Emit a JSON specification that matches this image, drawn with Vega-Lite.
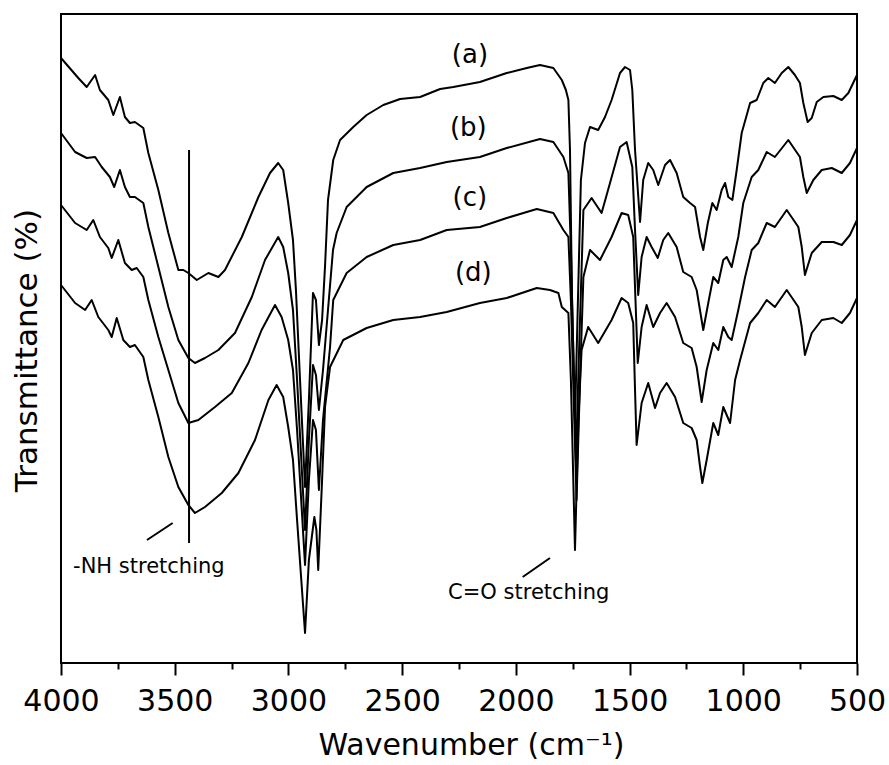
{
  "$schema": "https://vega.github.io/schema/vega-lite/v6.json",
  "width": 796,
  "height": 649,
  "autosize": {"type": "none"},
  "padding": {"left": 61, "top": 14, "right": 32, "bottom": 102},
  "background": "#ffffff",
  "config": {
    "view": {"stroke": "#000000", "strokeWidth": 2},
    "font": "DejaVu Sans",
    "axis": {"grid": false}
  },
  "datasets": {
    "spectra": [
      {"c":"a","wn":4000,"t":605},{"c":"a","wn":3924,"t":585},{"c":"a","wn":3887,"t":576},{"c":"a","wn":3850,"t":588},{"c":"a","wn":3829,"t":573},{"c":"a","wn":3792,"t":563},{"c":"a","wn":3770,"t":548},{"c":"a","wn":3741,"t":566},{"c":"a","wn":3719,"t":546},{"c":"a","wn":3697,"t":540},{"c":"a","wn":3675,"t":541},{"c":"a","wn":3638,"t":535},{"c":"a","wn":3616,"t":510},{"c":"a","wn":3572,"t":473},{"c":"a","wn":3528,"t":430},{"c":"a","wn":3484,"t":393},{"c":"a","wn":3462,"t":393},{"c":"a","wn":3440,"t":390},{"c":"a","wn":3403,"t":383},{"c":"a","wn":3352,"t":390},{"c":"a","wn":3308,"t":386},{"c":"a","wn":3279,"t":393},{"c":"a","wn":3205,"t":426},{"c":"a","wn":3132,"t":466},{"c":"a","wn":3081,"t":490},{"c":"a","wn":3045,"t":500},{"c":"a","wn":3023,"t":493},{"c":"a","wn":3001,"t":460},{"c":"a","wn":2980,"t":423},{"c":"a","wn":2967,"t":373},{"c":"a","wn":2949,"t":283},{"c":"a","wn":2927,"t":176},{"c":"a","wn":2910,"t":263},{"c":"a","wn":2892,"t":370},{"c":"a","wn":2879,"t":363},{"c":"a","wn":2866,"t":318},{"c":"a","wn":2852,"t":343},{"c":"a","wn":2839,"t":397},{"c":"a","wn":2826,"t":463},{"c":"a","wn":2803,"t":503},{"c":"a","wn":2773,"t":523},{"c":"a","wn":2715,"t":536},{"c":"a","wn":2656,"t":548},{"c":"a","wn":2583,"t":558},{"c":"a","wn":2509,"t":564},{"c":"a","wn":2421,"t":566},{"c":"a","wn":2333,"t":574},{"c":"a","wn":2275,"t":576},{"c":"a","wn":2158,"t":581},{"c":"a","wn":2040,"t":590},{"c":"a","wn":1952,"t":595},{"c":"a","wn":1894,"t":598},{"c":"a","wn":1835,"t":595},{"c":"a","wn":1798,"t":583},{"c":"a","wn":1780,"t":573},{"c":"a","wn":1769,"t":563},{"c":"a","wn":1762,"t":513},{"c":"a","wn":1753,"t":363},{"c":"a","wn":1740,"t":243},{"c":"a","wn":1727,"t":363},{"c":"a","wn":1714,"t":483},{"c":"a","wn":1696,"t":520},{"c":"a","wn":1674,"t":536},{"c":"a","wn":1638,"t":533},{"c":"a","wn":1608,"t":546},{"c":"a","wn":1579,"t":563},{"c":"a","wn":1542,"t":590},{"c":"a","wn":1520,"t":596},{"c":"a","wn":1498,"t":593},{"c":"a","wn":1488,"t":573},{"c":"a","wn":1476,"t":513},{"c":"a","wn":1454,"t":441},{"c":"a","wn":1440,"t":483},{"c":"a","wn":1418,"t":500},{"c":"a","wn":1396,"t":493},{"c":"a","wn":1374,"t":478},{"c":"a","wn":1344,"t":498},{"c":"a","wn":1322,"t":503},{"c":"a","wn":1293,"t":490},{"c":"a","wn":1264,"t":466},{"c":"a","wn":1234,"t":460},{"c":"a","wn":1212,"t":456},{"c":"a","wn":1190,"t":426},{"c":"a","wn":1176,"t":413},{"c":"a","wn":1156,"t":440},{"c":"a","wn":1136,"t":460},{"c":"a","wn":1117,"t":453},{"c":"a","wn":1095,"t":473},{"c":"a","wn":1080,"t":480},{"c":"a","wn":1066,"t":466},{"c":"a","wn":1048,"t":463},{"c":"a","wn":1029,"t":493},{"c":"a","wn":1007,"t":530},{"c":"a","wn":970,"t":560},{"c":"a","wn":941,"t":563},{"c":"a","wn":912,"t":580},{"c":"a","wn":890,"t":585},{"c":"a","wn":861,"t":580},{"c":"a","wn":831,"t":590},{"c":"a","wn":802,"t":596},{"c":"a","wn":773,"t":588},{"c":"a","wn":751,"t":580},{"c":"a","wn":736,"t":560},{"c":"a","wn":717,"t":541},{"c":"a","wn":699,"t":545},{"c":"a","wn":677,"t":561},{"c":"a","wn":648,"t":566},{"c":"a","wn":604,"t":567},{"c":"a","wn":567,"t":563},{"c":"a","wn":538,"t":570},{"c":"a","wn":500,"t":588},
      {"c":"b","wn":4000,"t":530},{"c":"b","wn":3938,"t":511},{"c":"b","wn":3887,"t":505},{"c":"b","wn":3850,"t":506},{"c":"b","wn":3821,"t":496},{"c":"b","wn":3785,"t":486},{"c":"b","wn":3766,"t":476},{"c":"b","wn":3741,"t":493},{"c":"b","wn":3719,"t":476},{"c":"b","wn":3697,"t":466},{"c":"b","wn":3675,"t":466},{"c":"b","wn":3638,"t":460},{"c":"b","wn":3616,"t":436},{"c":"b","wn":3572,"t":396},{"c":"b","wn":3528,"t":356},{"c":"b","wn":3484,"t":323},{"c":"b","wn":3440,"t":305},{"c":"b","wn":3411,"t":300},{"c":"b","wn":3367,"t":305},{"c":"b","wn":3308,"t":313},{"c":"b","wn":3235,"t":330},{"c":"b","wn":3161,"t":366},{"c":"b","wn":3103,"t":403},{"c":"b","wn":3045,"t":426},{"c":"b","wn":3023,"t":416},{"c":"b","wn":3001,"t":390},{"c":"b","wn":2980,"t":353},{"c":"b","wn":2962,"t":283},{"c":"b","wn":2927,"t":133},{"c":"b","wn":2910,"t":223},{"c":"b","wn":2892,"t":298},{"c":"b","wn":2879,"t":288},{"c":"b","wn":2866,"t":253},{"c":"b","wn":2848,"t":293},{"c":"b","wn":2825,"t":356},{"c":"b","wn":2804,"t":413},{"c":"b","wn":2788,"t":430},{"c":"b","wn":2744,"t":456},{"c":"b","wn":2656,"t":476},{"c":"b","wn":2539,"t":490},{"c":"b","wn":2421,"t":495},{"c":"b","wn":2304,"t":501},{"c":"b","wn":2158,"t":506},{"c":"b","wn":2040,"t":515},{"c":"b","wn":1894,"t":524},{"c":"b","wn":1835,"t":521},{"c":"b","wn":1791,"t":506},{"c":"b","wn":1769,"t":490},{"c":"b","wn":1758,"t":413},{"c":"b","wn":1736,"t":203},{"c":"b","wn":1722,"t":313},{"c":"b","wn":1703,"t":453},{"c":"b","wn":1667,"t":465},{"c":"b","wn":1623,"t":450},{"c":"b","wn":1586,"t":480},{"c":"b","wn":1542,"t":516},{"c":"b","wn":1513,"t":521},{"c":"b","wn":1488,"t":496},{"c":"b","wn":1476,"t":433},{"c":"b","wn":1462,"t":368},{"c":"b","wn":1447,"t":406},{"c":"b","wn":1425,"t":426},{"c":"b","wn":1403,"t":416},{"c":"b","wn":1376,"t":405},{"c":"b","wn":1352,"t":423},{"c":"b","wn":1330,"t":430},{"c":"b","wn":1293,"t":416},{"c":"b","wn":1264,"t":391},{"c":"b","wn":1227,"t":386},{"c":"b","wn":1205,"t":373},{"c":"b","wn":1176,"t":333},{"c":"b","wn":1154,"t":360},{"c":"b","wn":1132,"t":386},{"c":"b","wn":1110,"t":380},{"c":"b","wn":1088,"t":403},{"c":"b","wn":1073,"t":406},{"c":"b","wn":1051,"t":396},{"c":"b","wn":1022,"t":426},{"c":"b","wn":1000,"t":460},{"c":"b","wn":963,"t":486},{"c":"b","wn":934,"t":493},{"c":"b","wn":897,"t":511},{"c":"b","wn":861,"t":506},{"c":"b","wn":802,"t":523},{"c":"b","wn":751,"t":506},{"c":"b","wn":736,"t":486},{"c":"b","wn":721,"t":470},{"c":"b","wn":692,"t":483},{"c":"b","wn":655,"t":493},{"c":"b","wn":611,"t":495},{"c":"b","wn":567,"t":490},{"c":"b","wn":531,"t":500},{"c":"b","wn":500,"t":515},
      {"c":"c","wn":4000,"t":458},{"c":"c","wn":3938,"t":440},{"c":"c","wn":3887,"t":433},{"c":"c","wn":3858,"t":443},{"c":"c","wn":3829,"t":426},{"c":"c","wn":3792,"t":415},{"c":"c","wn":3777,"t":405},{"c":"c","wn":3748,"t":423},{"c":"c","wn":3719,"t":400},{"c":"c","wn":3689,"t":393},{"c":"c","wn":3667,"t":395},{"c":"c","wn":3638,"t":386},{"c":"c","wn":3616,"t":363},{"c":"c","wn":3572,"t":326},{"c":"c","wn":3528,"t":293},{"c":"c","wn":3484,"t":260},{"c":"c","wn":3440,"t":240},{"c":"c","wn":3396,"t":243},{"c":"c","wn":3323,"t":256},{"c":"c","wn":3249,"t":270},{"c":"c","wn":3176,"t":300},{"c":"c","wn":3118,"t":333},{"c":"c","wn":3059,"t":358},{"c":"c","wn":3030,"t":346},{"c":"c","wn":3001,"t":323},{"c":"c","wn":2980,"t":293},{"c":"c","wn":2962,"t":233},{"c":"c","wn":2927,"t":98},{"c":"c","wn":2910,"t":183},{"c":"c","wn":2892,"t":243},{"c":"c","wn":2879,"t":233},{"c":"c","wn":2866,"t":173},{"c":"c","wn":2848,"t":243},{"c":"c","wn":2817,"t":316},{"c":"c","wn":2803,"t":363},{"c":"c","wn":2744,"t":390},{"c":"c","wn":2656,"t":406},{"c":"c","wn":2539,"t":418},{"c":"c","wn":2421,"t":423},{"c":"c","wn":2304,"t":433},{"c":"c","wn":2158,"t":436},{"c":"c","wn":2040,"t":445},{"c":"c","wn":1908,"t":454},{"c":"c","wn":1835,"t":450},{"c":"c","wn":1791,"t":433},{"c":"c","wn":1769,"t":426},{"c":"c","wn":1758,"t":363},{"c":"c","wn":1733,"t":163},{"c":"c","wn":1718,"t":283},{"c":"c","wn":1703,"t":386},{"c":"c","wn":1674,"t":413},{"c":"c","wn":1630,"t":403},{"c":"c","wn":1579,"t":426},{"c":"c","wn":1535,"t":450},{"c":"c","wn":1506,"t":448},{"c":"c","wn":1484,"t":426},{"c":"c","wn":1474,"t":363},{"c":"c","wn":1464,"t":300},{"c":"c","wn":1447,"t":336},{"c":"c","wn":1425,"t":358},{"c":"c","wn":1396,"t":336},{"c":"c","wn":1366,"t":350},{"c":"c","wn":1337,"t":360},{"c":"c","wn":1300,"t":346},{"c":"c","wn":1264,"t":320},{"c":"c","wn":1227,"t":315},{"c":"c","wn":1205,"t":296},{"c":"c","wn":1183,"t":261},{"c":"c","wn":1161,"t":293},{"c":"c","wn":1132,"t":320},{"c":"c","wn":1110,"t":313},{"c":"c","wn":1088,"t":336},{"c":"c","wn":1066,"t":326},{"c":"c","wn":1051,"t":323},{"c":"c","wn":1022,"t":353},{"c":"c","wn":992,"t":386},{"c":"c","wn":963,"t":413},{"c":"c","wn":934,"t":420},{"c":"c","wn":897,"t":440},{"c":"c","wn":861,"t":436},{"c":"c","wn":809,"t":453},{"c":"c","wn":758,"t":436},{"c":"c","wn":743,"t":416},{"c":"c","wn":729,"t":388},{"c":"c","wn":699,"t":410},{"c":"c","wn":655,"t":421},{"c":"c","wn":604,"t":421},{"c":"c","wn":567,"t":418},{"c":"c","wn":531,"t":428},{"c":"c","wn":500,"t":443},
      {"c":"d","wn":4000,"t":378},{"c":"d","wn":3938,"t":360},{"c":"d","wn":3894,"t":353},{"c":"d","wn":3865,"t":363},{"c":"d","wn":3836,"t":346},{"c":"d","wn":3792,"t":333},{"c":"d","wn":3777,"t":326},{"c":"d","wn":3755,"t":345},{"c":"d","wn":3726,"t":323},{"c":"d","wn":3697,"t":316},{"c":"d","wn":3675,"t":318},{"c":"d","wn":3638,"t":306},{"c":"d","wn":3616,"t":283},{"c":"d","wn":3572,"t":246},{"c":"d","wn":3528,"t":206},{"c":"d","wn":3484,"t":176},{"c":"d","wn":3440,"t":158},{"c":"d","wn":3411,"t":150},{"c":"d","wn":3367,"t":156},{"c":"d","wn":3293,"t":170},{"c":"d","wn":3220,"t":190},{"c":"d","wn":3147,"t":223},{"c":"d","wn":3088,"t":263},{"c":"d","wn":3052,"t":278},{"c":"d","wn":3023,"t":266},{"c":"d","wn":3001,"t":236},{"c":"d","wn":2980,"t":203},{"c":"d","wn":2962,"t":143},{"c":"d","wn":2927,"t":30},{"c":"d","wn":2910,"t":103},{"c":"d","wn":2886,"t":146},{"c":"d","wn":2877,"t":133},{"c":"d","wn":2869,"t":93},{"c":"d","wn":2852,"t":183},{"c":"d","wn":2839,"t":256},{"c":"d","wn":2817,"t":296},{"c":"d","wn":2759,"t":323},{"c":"d","wn":2656,"t":335},{"c":"d","wn":2539,"t":343},{"c":"d","wn":2421,"t":346},{"c":"d","wn":2304,"t":351},{"c":"d","wn":2158,"t":360},{"c":"d","wn":2040,"t":365},{"c":"d","wn":1908,"t":375},{"c":"d","wn":1850,"t":373},{"c":"d","wn":1813,"t":370},{"c":"d","wn":1798,"t":356},{"c":"d","wn":1769,"t":350},{"c":"d","wn":1758,"t":283},{"c":"d","wn":1740,"t":113},{"c":"d","wn":1725,"t":243},{"c":"d","wn":1711,"t":313},{"c":"d","wn":1682,"t":336},{"c":"d","wn":1638,"t":320},{"c":"d","wn":1579,"t":343},{"c":"d","wn":1535,"t":365},{"c":"d","wn":1506,"t":360},{"c":"d","wn":1484,"t":340},{"c":"d","wn":1476,"t":273},{"c":"d","wn":1469,"t":218},{"c":"d","wn":1447,"t":260},{"c":"d","wn":1418,"t":280},{"c":"d","wn":1388,"t":255},{"c":"d","wn":1366,"t":270},{"c":"d","wn":1337,"t":280},{"c":"d","wn":1300,"t":266},{"c":"d","wn":1264,"t":240},{"c":"d","wn":1227,"t":235},{"c":"d","wn":1205,"t":223},{"c":"d","wn":1190,"t":196},{"c":"d","wn":1180,"t":180},{"c":"d","wn":1161,"t":203},{"c":"d","wn":1132,"t":240},{"c":"d","wn":1110,"t":228},{"c":"d","wn":1088,"t":256},{"c":"d","wn":1058,"t":240},{"c":"d","wn":1036,"t":283},{"c":"d","wn":1014,"t":303},{"c":"d","wn":970,"t":340},{"c":"d","wn":934,"t":350},{"c":"d","wn":897,"t":363},{"c":"d","wn":861,"t":356},{"c":"d","wn":809,"t":373},{"c":"d","wn":758,"t":356},{"c":"d","wn":743,"t":336},{"c":"d","wn":729,"t":308},{"c":"d","wn":699,"t":330},{"c":"d","wn":655,"t":343},{"c":"d","wn":604,"t":345},{"c":"d","wn":567,"t":340},{"c":"d","wn":531,"t":350},{"c":"d","wn":500,"t":365}
    ],
    "curveLabels": [
      {"wn": 2202, "t": 608, "s": "(a)"},
      {"wn": 2209, "t": 535, "s": "(b)"},
      {"wn": 2202, "t": 465, "s": "(c)"},
      {"wn": 2187, "t": 390, "s": "(d)"}
    ],
    "notes": [
      {"wn": 3947, "t": 96, "s": "-NH stretching"},
      {"wn": 2298, "t": 70, "s": "C=O stretching"}
    ],
    "leaders": [
      {"wn": 3622, "t": 123, "wn2": 3509, "t2": 140},
      {"wn": 1970, "t": 86, "wn2": 1850, "t2": 105}
    ],
    "marker": [
      {"wn": 3437, "t": 120, "t2": 513}
    ]
  },
  "resolve": {"axis": {"x": "independent"}},
  "encoding": {
    "y": {
      "field": "t", "type": "quantitative",
      "scale": {"domain": [0, 649], "nice": false, "zero": false},
      "axis": {
        "domain": false, "ticks": false, "labels": false,
        "title": "Transmittance (%)",
        "titleFont": "DejaVu Sans", "titleFontSize": 31, "titleFontWeight": "normal", "titleColor": "#000000",
        "titleX": -34, "titleY": 336, "titleBaseline": "middle", "titleAlign": "center", "titleAngle": -90
      }
    }
  },
  "layer": [
    {
      "data": {"name": "spectra"},
      "mark": {"type": "line", "color": "#000000", "strokeWidth": 2, "strokeJoin": "round"},
      "encoding": {
        "x": {
          "field": "wn", "type": "quantitative",
          "scale": {"domain": [500, 4000], "reverse": true, "nice": false, "zero": false},
          "axis": {
            "orient": "bottom",
            "values": [4000, 3500, 3000, 2500, 2000, 1500, 1000, 500],
            "format": "d",
            "domain": false,
            "ticks": true, "tickSize": 12, "tickWidth": 2, "tickColor": "#000000",
            "labelFont": "DejaVu Sans", "labelFontSize": 30, "labelColor": "#000000",
            "labelPadding": 11, "labelFlush": false, "labelOverlap": false,
            "title": "Wavenumber (cm⁻¹)",
            "titleFont": "DejaVu Sans", "titleFontSize": 30, "titleFontWeight": "normal", "titleColor": "#000000",
            "titleX": 410, "titleY": 82, "titleBaseline": "middle", "titleAlign": "center"
          }
        },
        "detail": {"field": "c", "type": "nominal"}
      }
    },
    {
      "data": {"name": "leaders"},
      "mark": {"type": "rule", "color": "#000000", "strokeWidth": 2},
      "encoding": {
        "x": {
          "field": "wn", "type": "quantitative",
          "axis": {
            "orient": "bottom",
            "values": [3750, 3250, 2750, 2250, 1750, 1250, 750],
            "labels": false, "domain": false, "title": null,
            "ticks": true, "tickSize": 6, "tickWidth": 2, "tickColor": "#000000"
          }
        },
        "x2": {"field": "wn2"},
        "y2": {"field": "t2"}
      }
    },
    {
      "data": {"name": "marker"},
      "mark": {"type": "rule", "color": "#000000", "strokeWidth": 2},
      "encoding": {
        "x": {"field": "wn", "type": "quantitative", "axis": null},
        "y2": {"field": "t2"}
      }
    },
    {
      "data": {"name": "curveLabels"},
      "mark": {"type": "text", "font": "DejaVu Sans", "fontSize": 26, "color": "#000000", "align": "center", "baseline": "middle"},
      "encoding": {
        "x": {"field": "wn", "type": "quantitative", "axis": null},
        "text": {"field": "s", "type": "nominal"}
      }
    },
    {
      "data": {"name": "notes"},
      "mark": {"type": "text", "font": "DejaVu Sans", "fontSize": 21, "color": "#000000", "align": "left", "baseline": "middle"},
      "encoding": {
        "x": {"field": "wn", "type": "quantitative", "axis": null},
        "text": {"field": "s", "type": "nominal"}
      }
    }
  ]
}
